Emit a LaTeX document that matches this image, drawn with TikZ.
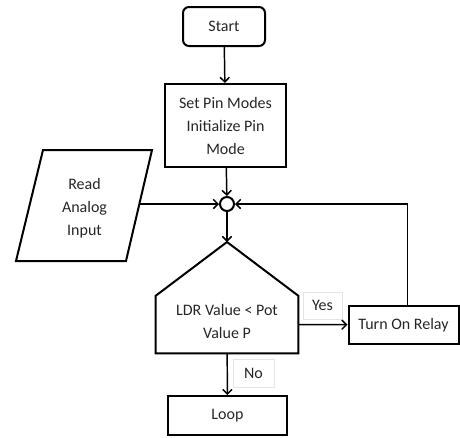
\documentclass[tikz,border=0pt]{standalone}
\usepackage{fontspec}
\setmainfont{Carlito}
\usetikzlibrary{arrows.meta}

\tikzset{
  box/.style={draw, line width=1.5pt, inner sep=0pt, align=center},
  arr/.style={line width=1.1pt, -{Straight Barb[length=3.5pt,width=7pt]}},
  lbl/.style={draw=gray!20, line width=0.5pt, inner sep=0pt}
}

\begin{document}
\begin{tikzpicture}[x=0.75pt, y=-0.75pt,
    font=\fontsize{12}{17.25}\selectfont, text=black!85]
    \useasboundingbox (0,0) rectangle (460,437);
    % nodes
    \node[box, rounded corners=4.5pt, minimum width=61.5pt, minimum height=29.25pt] (start) at (224,26.5) {Start};
    \node[box, minimum width=90.75pt, minimum height=62.25pt] (setpin) at (225.5,125.5) {Set Pin Modes\\Initialize Pin\\Mode};
    \node[draw, circle, line width=1.5pt, minimum size=10.5pt, inner sep=0pt] (join) at (227,204) {};
    % input (parallelogram)
    \draw[line width=1.5pt] (43,150) -- (152,150) -- (126,261) -- (16,261) -- cycle;
    \node[align=center] (read) at (84.5,208) {Read\\Analog\\Input};
    \coordinate (readpt) at (139,204);
    % decision
    \node[minimum width=106.5pt, minimum height=42.75pt, inner sep=0pt] (cond) at (227,324.5) {};
    \node[align=center] (condtext) at (227,321.5) {LDR Value < Pot\\Value P};
    \coordinate (condtop) at (227,242);
    \draw[line width=1.5pt] (cond.south west) -- (cond.north west) -- (condtop) -- (cond.north east) -- (cond.south east) -- cycle;
    \node[box, minimum width=82.5pt, minimum height=28.5pt] (relay) at (403.5,325) {Turn On Relay};
    \node[box, minimum width=89.25pt, minimum height=29.25pt] (loop) at (227.5,415.5) {Loop};
    % labels
    \node[lbl, minimum width=29.25pt, minimum height=20.25pt] (yes) at (322.5,305.5) {Yes};
    \node[lbl, minimum width=30.75pt, minimum height=21pt] (no) at (253.5,373) {No};
    % connectors
    \draw[arr] (start) -- (setpin);
    \draw[arr] (setpin) -- (join);
    \draw[arr] (readpt) -- (join);
    \draw[arr] (join) -- (condtop);
    \draw[arr] (cond.east) -- (relay);
    \draw[arr] ([xshift=3pt]relay.north) |- (join);
    \draw[arr] (cond) -- (loop);
\end{tikzpicture}
\end{document}
